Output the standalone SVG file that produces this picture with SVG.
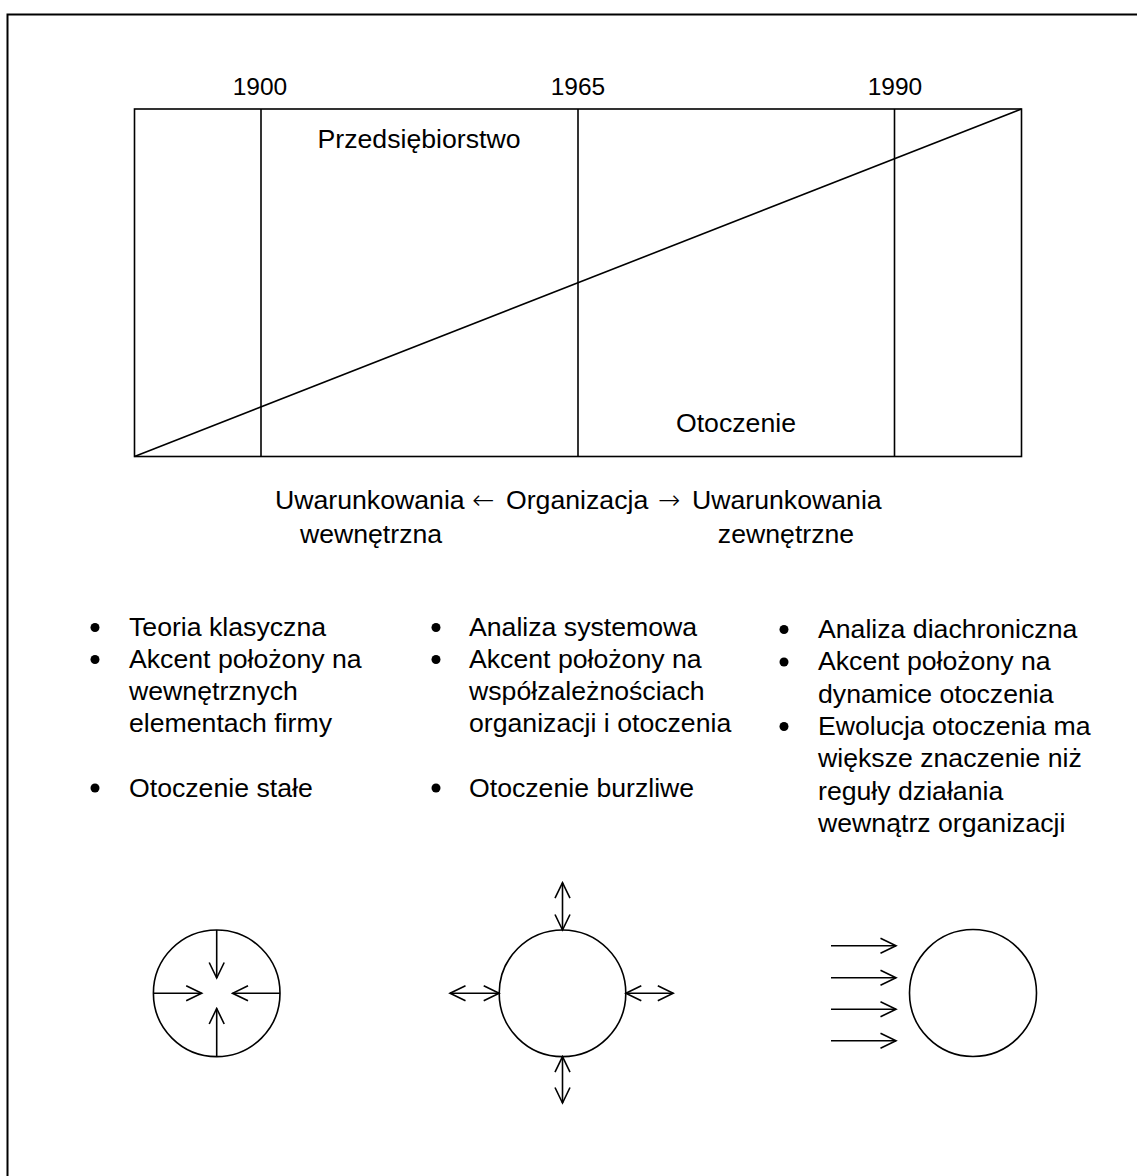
<svg xmlns="http://www.w3.org/2000/svg" width="1137" height="1176" viewBox="0 0 1137 1176">
<style>
  .ln { fill: none; stroke: #000; stroke-width: 1.6; }
  .t { font-family: "Liberation Sans", Arial, sans-serif; font-size: 26.67px; fill: #000; }
  .sym { font-family: "DejaVu Sans", sans-serif; font-weight: 200; }
  .yr { font-family: "Liberation Sans", Arial, sans-serif; font-size: 24.5px; fill: #000; text-anchor: middle; }
  .arr { fill: none; stroke: #000; stroke-width: 1.6; marker-end: url(#ah); }
  .darr { fill: none; stroke: #000; stroke-width: 1.6; marker-start: url(#ah); marker-end: url(#ah); }
</style>
<defs>
  <marker id="ah" markerUnits="userSpaceOnUse" markerWidth="20" markerHeight="20" viewBox="-18 -10 20 20" refX="0" refY="0" orient="auto-start-reverse">
    <path d="M-15.5,-7.5 L0,0 L-15.5,7.5" fill="none" stroke="#000" stroke-width="1.6"/>
  </marker>
</defs>
<rect x="0" y="0" width="1137" height="1176" fill="#fff"/>
<rect x="7.5" y="14.5" width="1140" height="1170" fill="none" stroke="#000" stroke-width="2"/>

<g id="timeline">
  <rect class="ln" x="134.5" y="109" width="887" height="347.5"/>
  <line class="ln" x1="261" y1="109" x2="261" y2="456.5"/>
  <line class="ln" x1="578" y1="109" x2="578" y2="456.5"/>
  <line class="ln" x1="894.5" y1="109" x2="894.5" y2="456.5"/>
  <line class="ln" x1="134.5" y1="456.5" x2="1021.5" y2="109"/>
  <text class="yr" x="260" y="95">1900</text>
  <text class="yr" x="578" y="95">1965</text>
  <text class="yr" x="895" y="95">1990</text>
  <text class="t" x="419" y="148" text-anchor="middle">Przedsiębiorstwo</text>
  <text class="t" x="736" y="432" text-anchor="middle">Otoczenie</text>
</g>

<g id="axis-label">
  <text class="t" y="509"><tspan x="275">Uwarunkowania</tspan> <tspan class="sym" x="472">←</tspan> <tspan x="506">Organizacja</tspan> <tspan class="sym" x="658">→</tspan> <tspan x="692">Uwarunkowania</tspan></text>
  <text class="t" x="371" y="543" text-anchor="middle">wewnętrzna</text>
  <text class="t" x="786" y="543" text-anchor="middle">zewnętrzne</text>
</g>

<g id="col1">
  <circle cx="95" cy="627.5" r="4.5"/>
  <circle cx="95" cy="659.5" r="4.5"/>
  <circle cx="95" cy="788" r="4.5"/>
  <text class="t" x="129" y="636">Teoria klasyczna</text>
  <text class="t" x="129" y="668">Akcent położony na</text>
  <text class="t" x="129" y="700">wewnętrznych</text>
  <text class="t" x="129" y="732">elementach firmy</text>
  <text class="t" x="129" y="796.5">Otoczenie stałe</text>
</g>

<g id="col2">
  <circle cx="436" cy="627.5" r="4.5"/>
  <circle cx="436" cy="659.5" r="4.5"/>
  <circle cx="436" cy="788" r="4.5"/>
  <text class="t" x="469" y="636">Analiza systemowa</text>
  <text class="t" x="469" y="668">Akcent położony na</text>
  <text class="t" x="469" y="700">współzależnościach</text>
  <text class="t" x="469" y="732">organizacji i otoczenia</text>
  <text class="t" x="469" y="796.5">Otoczenie burzliwe</text>
</g>

<g id="col3">
  <circle cx="784" cy="629.5" r="4.5"/>
  <circle cx="784" cy="662" r="4.5"/>
  <circle cx="784" cy="726.5" r="4.5"/>
  <text class="t" x="818" y="638">Analiza diachroniczna</text>
  <text class="t" x="818" y="670.3">Akcent położony na</text>
  <text class="t" x="818" y="702.7">dynamice otoczenia</text>
  <text class="t" x="818" y="735">Ewolucja otoczenia ma</text>
  <text class="t" x="818" y="767.3">większe znaczenie niż</text>
  <text class="t" x="818" y="799.7">reguły działania</text>
  <text class="t" x="818" y="832">wewnątrz organizacji</text>
</g>

<g id="circle-closed">
  <circle class="ln" cx="216.7" cy="993.3" r="63.3"/>
</g>
<g id="circle-systemic">
  <circle class="ln" cx="562.5" cy="993.3" r="63.3"/>
</g>
<g id="circle-diachronic">
  <circle class="ln" cx="973" cy="993" r="63.5"/>
</g>

<g id="connectors">
  <line class="arr" x1="216.7" y1="930" x2="216.7" y2="978"/>
  <line class="arr" x1="216.7" y1="1056.6" x2="216.7" y2="1008.5"/>
  <line class="arr" x1="153.4" y1="993.3" x2="201.7" y2="993.3"/>
  <line class="arr" x1="280" y1="993.3" x2="232.5" y2="993.3"/>

  <line class="darr" x1="562.5" y1="882.7" x2="562.5" y2="930"/>
  <line class="darr" x1="562.5" y1="1056.6" x2="562.5" y2="1103"/>
  <line class="darr" x1="450" y1="993.3" x2="499.2" y2="993.3"/>
  <line class="darr" x1="625.8" y1="993.3" x2="673.3" y2="993.3"/>

  <line class="arr" x1="831" y1="945.7" x2="896" y2="945.7"/>
  <line class="arr" x1="831" y1="977.7" x2="896" y2="977.7"/>
  <line class="arr" x1="831" y1="1009.3" x2="896" y2="1009.3"/>
  <line class="arr" x1="831" y1="1040.7" x2="896" y2="1040.7"/>
</g>
</svg>
